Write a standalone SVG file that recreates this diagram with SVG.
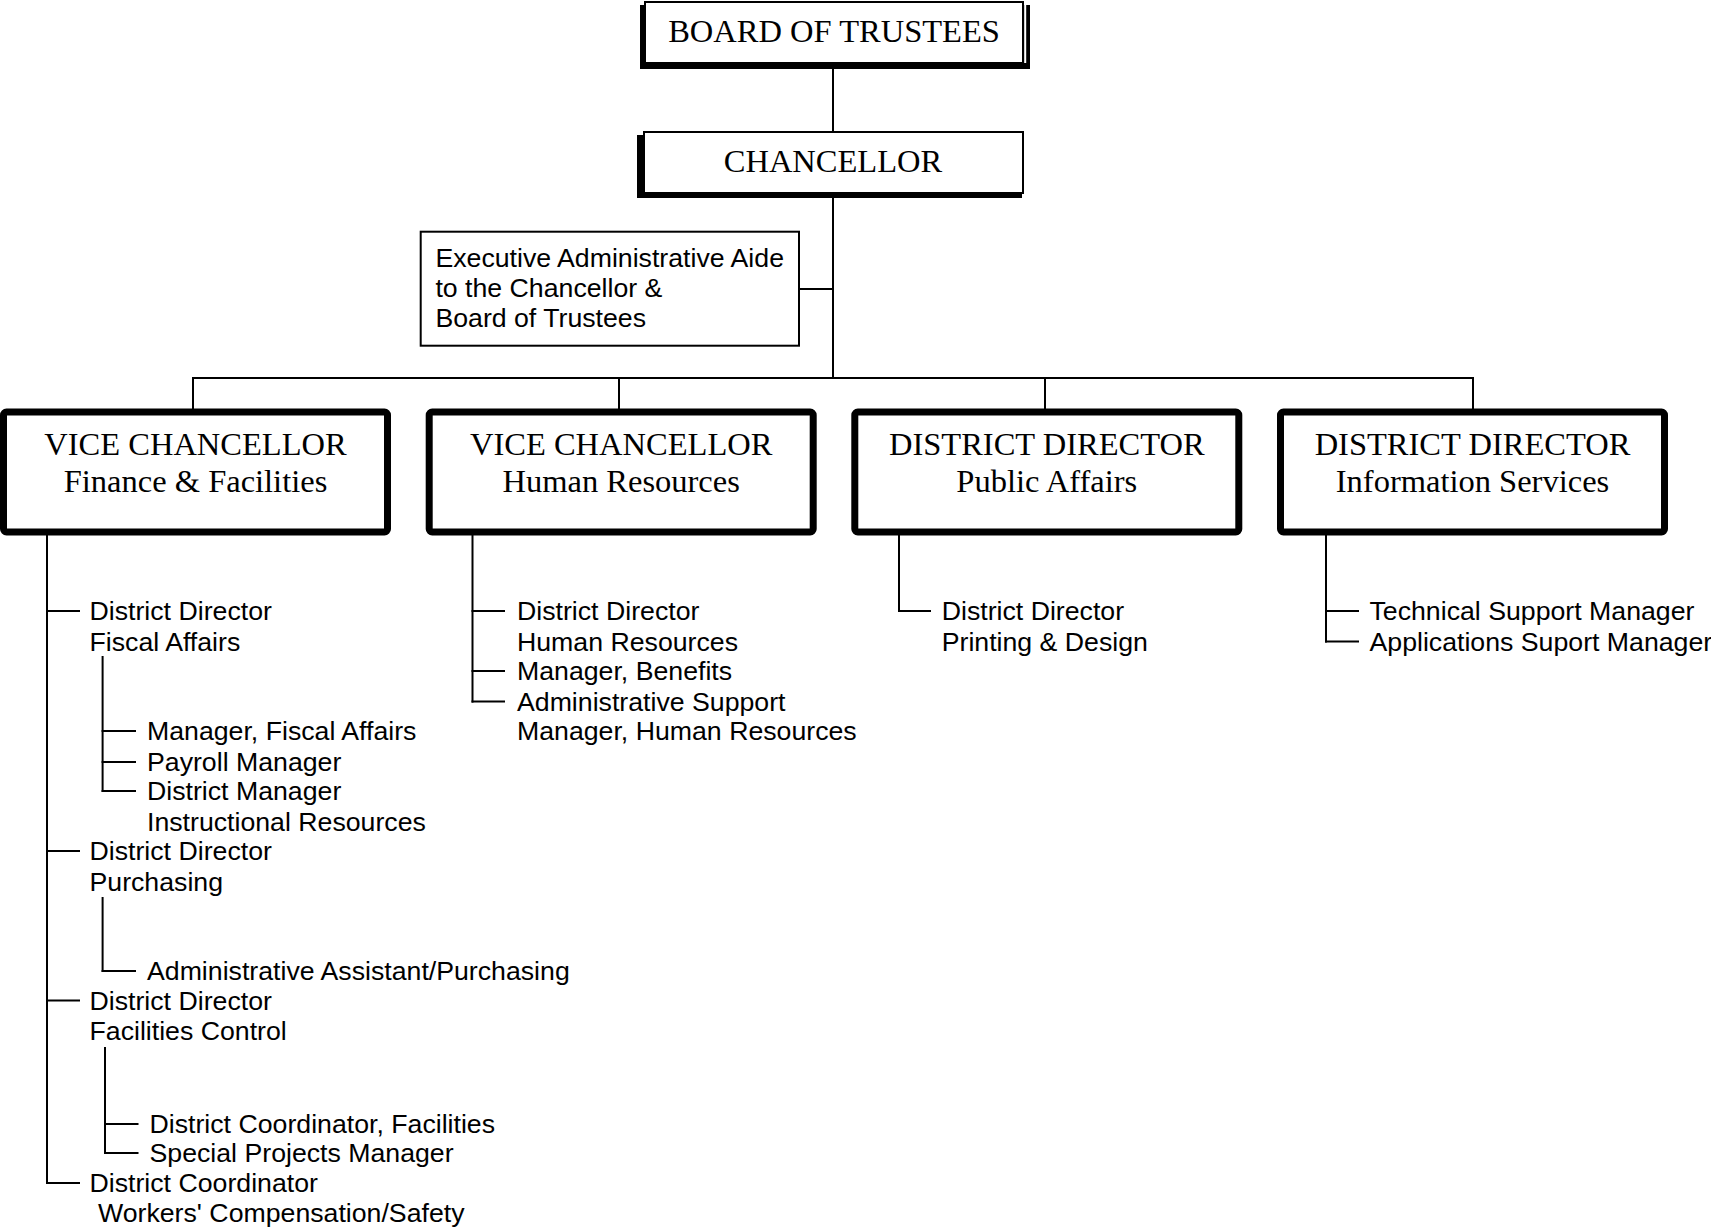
<svg xmlns="http://www.w3.org/2000/svg" width="1711" height="1227" viewBox="0 0 1711 1227">
<style>
.serif{font-family:"Liberation Serif","Times New Roman",serif;font-size:32.5px;fill:#000;text-anchor:middle}
.sans{font-family:"Liberation Sans",Arial,sans-serif;font-size:26.7px;fill:#000}
.thick{fill:#fff;stroke:#000;stroke-width:7}
.thin{fill:#fff;stroke:#000;stroke-width:2}
.conn line{stroke:#000;stroke-width:2}
</style>
<rect width="1711" height="1227" fill="#fff"/>
<g class="conn">
<line x1="833" y1="66" x2="833" y2="132"/>
<line x1="833" y1="196" x2="833" y2="379"/>
<line x1="799" y1="289" x2="833" y2="289"/>
<line x1="192" y1="378" x2="1474" y2="378"/>
<line x1="193" y1="377" x2="193" y2="409"/>
<line x1="619" y1="377" x2="619" y2="409"/>
<line x1="1045" y1="377" x2="1045" y2="409"/>
<line x1="1473" y1="377" x2="1473" y2="409"/>
<line x1="47" y1="535" x2="47" y2="1184"/>
<line x1="46" y1="611" x2="80" y2="611"/>
<line x1="46" y1="851" x2="80" y2="851"/>
<line x1="46" y1="1000.5" x2="80" y2="1000.5"/>
<line x1="46" y1="1183" x2="80" y2="1183"/>
<line x1="102.6" y1="656" x2="102.6" y2="792"/>
<line x1="101.6" y1="731" x2="136" y2="731"/>
<line x1="101.6" y1="762" x2="136" y2="762"/>
<line x1="101.6" y1="791" x2="136" y2="791"/>
<line x1="102.6" y1="897" x2="102.6" y2="972"/>
<line x1="101.6" y1="971" x2="136" y2="971"/>
<line x1="105" y1="1047" x2="105" y2="1154"/>
<line x1="104" y1="1124" x2="138.5" y2="1124"/>
<line x1="104" y1="1153" x2="138.5" y2="1153"/>
<line x1="472.5" y1="535" x2="472.5" y2="702.6"/>
<line x1="471.5" y1="611" x2="505" y2="611"/>
<line x1="471.5" y1="671" x2="505" y2="671"/>
<line x1="471.5" y1="701.6" x2="505" y2="701.6"/>
<line x1="899" y1="535" x2="899" y2="612"/>
<line x1="898" y1="611" x2="931" y2="611"/>
<line x1="1326" y1="535" x2="1326" y2="642.6"/>
<line x1="1325" y1="611" x2="1359" y2="611"/>
<line x1="1325" y1="641.6" x2="1359" y2="641.6"/>
</g>
<g id="board">
<rect x="640" y="5" width="390" height="64" fill="#000"/>
<rect x="645" y="2" width="378" height="61" class="thin"/>
<rect x="1024.2" y="3" width="2" height="60" fill="#fff"/>
<text class="serif" x="834" y="42">BOARD OF TRUSTEES</text>
</g>
<g id="chancellor">
<rect x="637" y="135" width="385" height="63" fill="#000"/>
<rect x="644" y="132" width="379" height="61" class="thin"/>
<text class="serif" x="833" y="172">CHANCELLOR</text>
</g>
<g id="exec-aide">
<rect x="420.7" y="231.7" width="378.3" height="114" class="thin"/>
<text class="sans" x="435.4" y="266.5">Executive Administrative Aide</text>
<text class="sans" x="435.4" y="297">to the Chancellor &amp;</text>
<text class="sans" x="435.4" y="326.5">Board of Trustees</text>
</g>
<g id="vc-finance">
<rect x="3.5" y="412" width="384" height="120" rx="3" class="thick"/>
<text class="serif" x="195.5" y="455">VICE CHANCELLOR</text>
<text class="serif" x="195.5" y="492">Finance &amp; Facilities</text>
</g>
<g id="vc-hr">
<rect x="429.2" y="412" width="384" height="120" rx="3" class="thick"/>
<text class="serif" x="621.2" y="455">VICE CHANCELLOR</text>
<text class="serif" x="621.2" y="492">Human Resources</text>
</g>
<g id="dd-pa">
<rect x="854.8" y="412" width="384" height="120" rx="3" class="thick"/>
<text class="serif" x="1046.8" y="455">DISTRICT DIRECTOR</text>
<text class="serif" x="1046.8" y="492">Public Affairs</text>
</g>
<g id="dd-is">
<rect x="1280.5" y="412" width="384" height="120" rx="3" class="thick"/>
<text class="serif" x="1472.5" y="455">DISTRICT DIRECTOR</text>
<text class="serif" x="1472.5" y="492">Information Services</text>
</g>
<g id="finance-list">
<text class="sans" x="89.5" y="620">District Director</text>
<text class="sans" x="89.5" y="650.5">Fiscal Affairs</text>
<text class="sans" x="147" y="740">Manager, Fiscal Affairs</text>
<text class="sans" x="147" y="770.5">Payroll Manager</text>
<text class="sans" x="147" y="800">District Manager</text>
<text class="sans" x="147" y="830.5">Instructional Resources</text>
<text class="sans" x="89.5" y="860">District Director</text>
<text class="sans" x="89.5" y="890.5">Purchasing</text>
<text class="sans" x="147" y="980">Administrative Assistant/Purchasing</text>
<text class="sans" x="89.5" y="1009.5">District Director</text>
<text class="sans" x="89.5" y="1040">Facilities Control</text>
<text class="sans" x="149.5" y="1133">District Coordinator, Facilities</text>
<text class="sans" x="149.5" y="1162">Special Projects Manager</text>
<text class="sans" x="89.5" y="1192">District Coordinator</text>
<text class="sans" x="98" y="1222">Workers' Compensation/Safety</text>
</g>
<g id="hr-list">
<text class="sans" x="517" y="620">District Director</text>
<text class="sans" x="517" y="650.5">Human Resources</text>
<text class="sans" x="517" y="680">Manager, Benefits</text>
<text class="sans" x="517" y="710.5">Administrative Support</text>
<text class="sans" x="517" y="740">Manager, Human Resources</text>
</g>
<g id="pa-list">
<text class="sans" x="941.7" y="620">District Director</text>
<text class="sans" x="941.7" y="650.5">Printing &amp; Design</text>
</g>
<g id="is-list">
<text class="sans" x="1369.5" y="620">Technical Support Manager</text>
<text class="sans" x="1369.5" y="650.5">Applications Suport Manager</text>
</g>
</svg>
